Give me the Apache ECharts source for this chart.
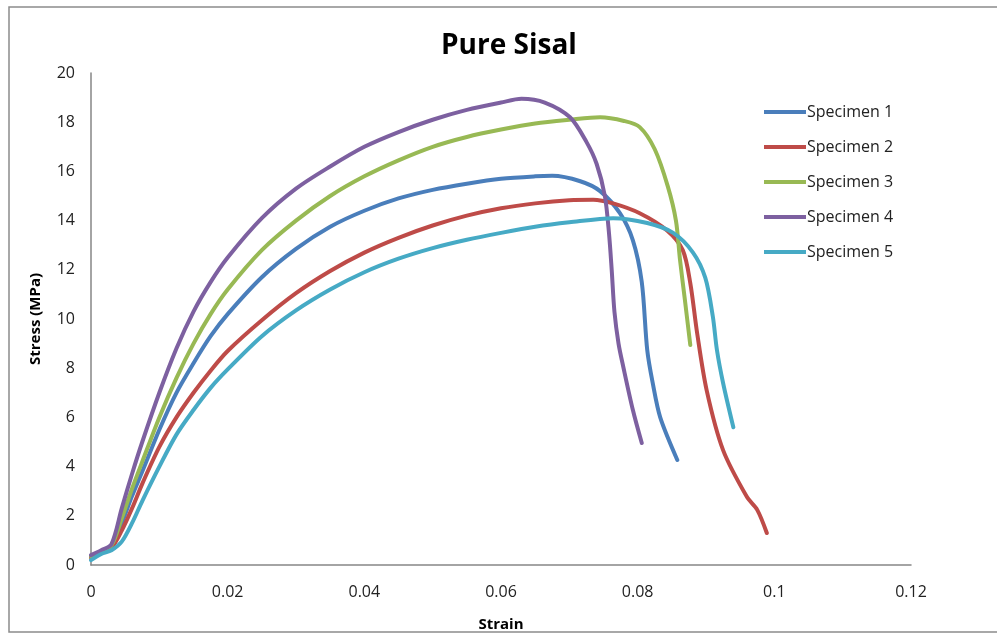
<!DOCTYPE html>
<html>
<head>
<meta charset="utf-8">
<script src="https://cdn.jsdelivr.net/npm/echarts@6/dist/echarts.min.js"></script>
<style>
  html, body { margin: 0; padding: 0; background: #fff; }
  #chart { width: 997px; height: 637px; }
</style>
</head>
<body>
<div id="chart"></div>
<script>
// Tensile test curves, pure sisal specimens: [strain, stress (MPa)]
const seriesNames = ['Specimen 1', 'Specimen 2', 'Specimen 3', 'Specimen 4', 'Specimen 5'];
const seriesColors = ['#4A7EBB', '#BE4B48', '#98B954', '#7D60A0', '#46AAC5'];

const specimen1 = [
  [0, 0.35], [0.0015, 0.55], [0.003, 0.75], [0.0045, 1.7], [0.006, 2.8], [0.0075, 3.8],
  [0.01, 5.5], [0.0125, 7.0], [0.015, 8.2], [0.0175, 9.3], [0.02, 10.2], [0.025, 11.7],
  [0.03, 12.85], [0.035, 13.75], [0.04, 14.4], [0.045, 14.9], [0.05, 15.25], [0.055, 15.5],
  [0.06, 15.7], [0.065, 15.8], [0.0675, 15.82], [0.0716, 15.6], [0.0745, 15.2],
  [0.0774, 14.3], [0.0793, 13.2], [0.0806, 11.5], [0.0814, 8.74], [0.0822, 7.4],
  [0.0833, 6.0], [0.0858, 4.27]
];
const specimen2 = [
  [0, 0.3], [0.0015, 0.5], [0.003, 0.7], [0.0045, 1.4], [0.006, 2.3], [0.0075, 3.3],
  [0.01, 4.8], [0.0125, 6.0], [0.015, 7.0], [0.0175, 7.9], [0.02, 8.7], [0.025, 9.95],
  [0.03, 11.05], [0.035, 11.95], [0.04, 12.7], [0.045, 13.3], [0.05, 13.8], [0.055, 14.2],
  [0.06, 14.5], [0.065, 14.7], [0.07, 14.83], [0.0735, 14.85], [0.0764, 14.7],
  [0.0803, 14.3], [0.0843, 13.6], [0.0866, 12.8], [0.0877, 11.46], [0.0887, 9.43],
  [0.0901, 7.1], [0.0925, 4.67], [0.096, 2.76], [0.0975, 2.24], [0.0989, 1.3]
];
const specimen3 = [
  [0, 0.35], [0.0015, 0.55], [0.003, 0.8], [0.0045, 1.9], [0.006, 3.1], [0.0075, 4.2],
  [0.01, 6.0], [0.0125, 7.6], [0.015, 9.0], [0.0175, 10.2], [0.02, 11.2], [0.025, 12.8],
  [0.03, 14.0], [0.035, 15.0], [0.04, 15.8], [0.045, 16.45], [0.05, 17.0], [0.055, 17.4],
  [0.06, 17.7], [0.065, 17.95], [0.07, 18.1], [0.0745, 18.2], [0.078, 18.05],
  [0.0803, 17.8], [0.0825, 16.9], [0.0844, 15.4], [0.0856, 14.0], [0.0862, 12.4],
  [0.0869, 10.8], [0.0877, 8.94]
];
const specimen4 = [
  [0, 0.4], [0.0015, 0.6], [0.003, 0.85], [0.0045, 2.3], [0.006, 3.7], [0.0075, 5.0],
  [0.01, 7.0], [0.0125, 8.8], [0.015, 10.3], [0.0175, 11.5], [0.02, 12.5], [0.025, 14.1],
  [0.03, 15.3], [0.035, 16.2], [0.04, 17.0], [0.045, 17.6], [0.05, 18.1], [0.055, 18.5],
  [0.06, 18.8], [0.063, 18.95], [0.0664, 18.8], [0.0701, 18.2], [0.0725, 17.2],
  [0.074, 16.3], [0.0752, 15.0], [0.0758, 13.5], [0.0762, 12.0], [0.0766, 10.3],
  [0.0772, 9.0], [0.0779, 8.05], [0.0793, 6.3], [0.0806, 4.96]
];
const specimen5 = [
  [0, 0.2], [0.0015, 0.45], [0.003, 0.6], [0.0045, 0.95], [0.006, 1.7], [0.0075, 2.6],
  [0.01, 4.0], [0.0125, 5.3], [0.015, 6.3], [0.0175, 7.2], [0.02, 7.95], [0.025, 9.3],
  [0.03, 10.35], [0.035, 11.2], [0.04, 11.9], [0.045, 12.45], [0.05, 12.88], [0.055, 13.22],
  [0.06, 13.5], [0.065, 13.75], [0.07, 13.93], [0.0764, 14.1], [0.0814, 13.9],
  [0.0852, 13.5], [0.0881, 12.7], [0.0899, 11.67], [0.091, 10.1], [0.0916, 8.74],
  [0.0925, 7.4], [0.094, 5.6]
];
const seriesData = [specimen1, specimen2, specimen3, specimen4, specimen5];

const xTicks = { min: 0, max: 0.12, interval: 0.02 };
const yTicks = { min: 0, max: 20, interval: 2 };

const font = 'Open Sans, Lato, sans-serif';

const chart = echarts.init(document.getElementById('chart'), null, { renderer: 'canvas' });

chart.setOption({
  backgroundColor: '#ffffff',
  animation: false,
  title: {
    text: 'Pure Sisal',
    left: 436,
    top: 27,
    textStyle: { fontFamily: font, fontSize: 28, fontWeight: 'bold', color: '#000' }
  },
  graphic: [{
    type: 'rect',
    shape: { x: 9, y: 7, width: 1000, height: 625 },
    style: { fill: 'none', stroke: '#8c8c8c', lineWidth: 1.5 },
    silent: true
  }],
  legend: {
    orient: 'vertical',
    left: 759,
    top: 99,
    itemGap: 19,
    itemWidth: 42,
    itemHeight: 22,
    icon: 'path://M0,9 L42,9 L42,13 L0,13 Z',
    textStyle: { fontFamily: font, fontSize: 16, color: '#222', padding: [0, 0, 0, -4] },
    data: seriesNames
  },
  grid: { left: 91, right: 86, top: 73, bottom: 72, containLabel: false },
  xAxis: {
    type: 'value',
    min: xTicks.min, max: xTicks.max, interval: xTicks.interval,
    name: 'Strain',
    nameLocation: 'middle',
    nameGap: 52,
    nameTextStyle: { fontFamily: font, fontSize: 15, fontWeight: 'bold', color: '#000' },
    axisLine: { show: true, lineStyle: { color: '#868686', width: 1.5 } },
    axisTick: { show: false },
    splitLine: { show: false },
    axisLabel: {
      fontFamily: font, fontSize: 16, color: '#222', margin: 19,
      formatter: v => String(parseFloat(v.toFixed(4)))
    }
  },
  yAxis: {
    type: 'value',
    min: yTicks.min, max: yTicks.max, interval: yTicks.interval,
    name: 'Stress (MPa)',
    nameLocation: 'middle',
    nameGap: 48,
    nameRotate: 90,
    nameTextStyle: { fontFamily: font, fontSize: 15, fontWeight: 'bold', color: '#000' },
    axisLine: { show: true, lineStyle: { color: '#868686', width: 1.5 } },
    axisTick: { show: false },
    splitLine: { show: false },
    axisLabel: { fontFamily: font, fontSize: 16, color: '#222', margin: 16 }
  },
  series: seriesNames.map((name, i) => ({
    name: name,
    type: 'line',
    data: seriesData[i],
    smooth: 0.3,
    showSymbol: false,
    color: seriesColors[i],
    lineStyle: { width: 4, color: seriesColors[i], cap: 'round', join: 'round' }
  }))
});
</script>
</body>
</html>
